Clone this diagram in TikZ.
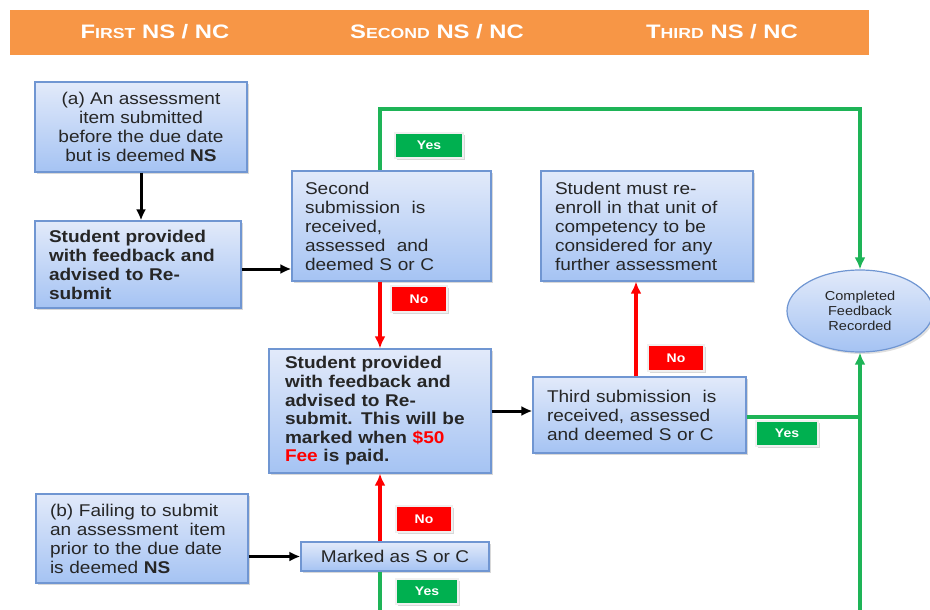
\documentclass[tikz,border=0pt]{standalone}
\usepackage{fontspec}
\setmainfont[FakeStretch=1.12]{Liberation Sans}
\newfontfamily\hdrfont[FakeStretch=1.22]{Liberation Sans}
\usetikzlibrary{arrows.meta,shadows,shapes.geometric}
\definecolor{hdr}{HTML}{F79646}
\definecolor{boxtop}{HTML}{E2EAFA}
\definecolor{boxbot}{HTML}{A5C3F3}
\definecolor{boxline}{HTML}{7096D2}
\definecolor{yesg}{HTML}{00B050}
\definecolor{nor}{HTML}{FF0000}
\definecolor{gline}{HTML}{1EB457}
\newcommand{\bodyfont}{\fontsize{17}{19}\selectfont}
\newcommand{\hsc}[2]{#1{\fontsize{14.5}{16}\selectfont #2}}
\tikzset{
  box/.style={rectangle, draw=boxline, line width=1.2pt, top color=boxtop, bottom color=boxbot,
    inner sep=0pt, font=\bodyfont, text=black!85,
    drop shadow={shadow xshift=2pt, shadow yshift=-2pt, fill=black!30}},
  lbl/.style={rectangle, draw=black!6, line width=2pt, inner sep=0pt, text=white,
    font=\bfseries\fontsize{12.5}{14}\selectfont,
    drop shadow={shadow xshift=2pt, shadow yshift=-2pt, fill=black!30}},
  yeslbl/.style={lbl, fill=yesg, minimum width=64pt, minimum height=25pt},
  nolbl/.style={lbl, fill=nor, minimum width=56pt, minimum height=26pt},
  bl/.style={line width=3pt, black, -{Latex[length=11pt,width=10pt]}},
  rl/.style={line width=3.2pt, nor, -{Latex[length=12pt,width=11pt]}},
  gl/.style={line width=3.2pt, gline},
  hdrtxt/.style={text=white, font=\hdrfont\bfseries\fontsize{19.5}{20}\selectfont},
}
\begin{document}
\begin{tikzpicture}[x=1pt,y=-1pt]
\useasboundingbox (0,0) rectangle (930,610);
% header
\fill[hdr] (10,10) rectangle (869,55);
\node[hdrtxt] (h1) at (155,32) {\hsc{F}{IRST} NS / NC};
\node[hdrtxt] (h2) at (437,32) {\hsc{S}{ECOND} NS / NC};
\node[hdrtxt] (h3) at (722,32) {\hsc{T}{HIRD} NS / NC};

% coordinates for free ends
\coordinate (topR) at (860,109);
\coordinate (botL) at (380,612);
\coordinate (botR) at (860,612);

% boxes
\node[box, minimum width=212pt, minimum height=90pt, align=center] (A) at (141,127)
  {(a) An assessment\\item submitted\\before the due date\\but is deemed \textbf{NS}};
\node[box, minimum width=206pt, minimum height=87pt, text width=178pt, align=left] (B) at (138,264.5)
  {\bfseries Student provided\\with feedback and\\advised to Re-\\submit};
\node[box, minimum width=199pt, minimum height=110pt, text width=173pt, align=left] (C) at (391.5,226)
  {Second\\submission\ \ is\\received,\\assessed\ \ and\\deemed S or C};
\node[box, minimum width=212pt, minimum height=110pt, text width=184pt, align=left] (D) at (647,226)
  {Student must re-\\enroll in that unit of\\competency to be\\considered for any\\further assessment};
\node[box, minimum width=222pt, minimum height=124pt, text width=190pt, align=left,
  font=\fontsize{17}{18.6}\selectfont\bfseries] (E) at (380,411)
  {Student provided\\with feedback and\\advised to Re-\\submit. This will be\\marked when \textcolor{nor}{\$50}\\\textcolor{nor}{Fee} is paid.};
\node[box, minimum width=213pt, minimum height=76pt, text width=185pt, align=left] (F) at (639.5,415)
  {Third submission\ \ is\\received, assessed\\and deemed S or C};
\node[box, minimum width=212pt, minimum height=89pt, text width=184pt, align=left] (G) at (142,538.5)
  {(b) Failing to submit\\an assessment\ \ item\\prior to the due date\\is deemed \textbf{NS}};
\node[box, minimum width=188pt, minimum height=29pt] (H) at (395,556.5)
  {Marked as S or C};
\node[ellipse, draw=boxline, line width=1.2pt, top color=boxtop, bottom color=boxbot,
  minimum width=146pt, minimum height=82pt, inner sep=0pt, align=center,
  font=\fontsize{13}{15}\selectfont, text=black!85,
  drop shadow={shadow xshift=2pt, shadow yshift=-2pt, fill=black!25}] (ell) at (860,311)
  {Completed\\Feedback\\Recorded};

% connectors
\draw[bl] (A.south) -- (A.south |- B.north);
\draw[bl] ([yshift=-4.5pt]B.east) -- ([yshift=-4.5pt]B.east -| C.west);
\draw[bl] (E.east) -- (E.east -| F.west);
\draw[bl] (H.west -| G.east) -- (H.west);
\draw[rl] (C.south -| E.north) -- (E.north);
\draw[rl] (H.north -| E.south) -- (E.south);
\draw[rl] ([xshift=-3.5pt]F.north) -- ([xshift=-3.5pt]F.north |- D.south);
\draw[gl, -{Latex[length=12pt,width=11pt]}] (C.north -| E.north) |- (topR) -- (ell.north);
\draw[gl] ([yshift=-2pt]F.east) -- ([yshift=-2pt]F.east -| ell.south);
\draw[gl, -{Latex[length=12pt,width=11pt]}] (botR) -- (ell.south);
\draw[gl] (H.south -| E.south) -- (botL);

% labels
\node[yeslbl, minimum width=68pt] (y1) at (429,145) {Yes};
\node[nolbl] (n1) at (419,299) {No};
\node[nolbl] (n2) at (676,358) {No};
\node[yeslbl, minimum width=62pt] (y2) at (787,433) {Yes};
\node[nolbl] (n3) at (424,519) {No};
\node[yeslbl, minimum width=62pt] (y3) at (427,591) {Yes};
\end{tikzpicture}
\end{document}
